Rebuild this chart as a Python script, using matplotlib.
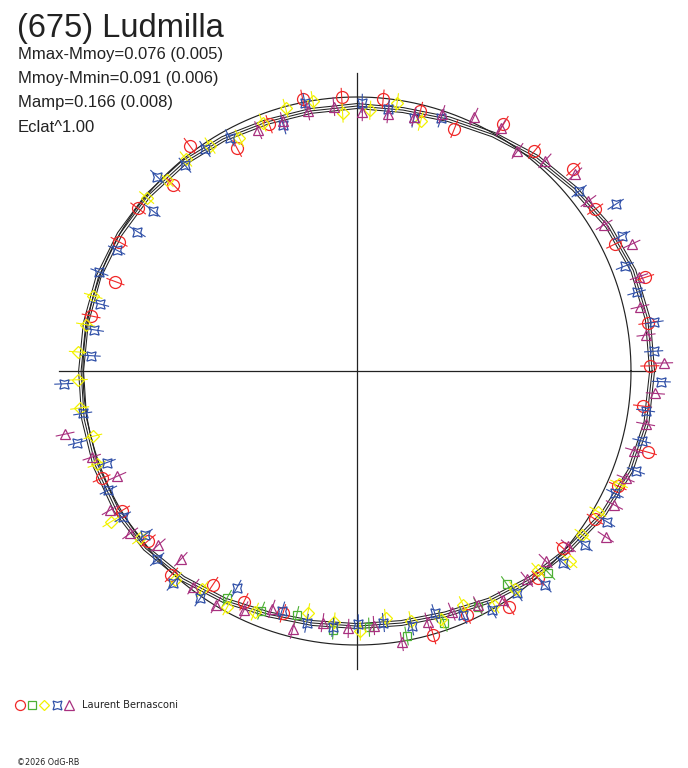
import numpy as np
import matplotlib
matplotlib.use("Agg")
import matplotlib.pyplot as plt
from matplotlib.collections import LineCollection

# ---------------- text ----------------
title = "(675) Ludmilla"
stats_lines = ["Mmax-Mmoy=0.076 (0.005)",
               "Mmoy-Mmin=0.091 (0.006)",
               "Mamp=0.166 (0.008)",
               "Eclat^1.00"]
observer = "Laurent Bernasconi"
credit = "\u00a92026 OdG-RB"

# ---------------- fitted light curve (radius vs phase angle, deg) ----------------
fit_angle = [0, 10, 20, 30, 40, 50, 60, 70, 80, 90, 100, 110, 120, 130, 140, 150, 160, 170,
             180, 190, 200, 210, 220, 230, 240, 250, 260, 270, 280, 290, 300, 310, 320, 330, 340, 350]
fit_radius = [1.077, 1.078, 1.073, 1.058, 1.036, 1.018, 0.996, 0.978, 0.967, 0.967, 0.964, 0.967,
              0.978, 0.989, 0.996, 1.000, 1.004, 1.005, 1.007, 1.011, 1.015, 1.015, 1.007, 0.989,
              0.967, 0.945, 0.934, 0.931, 0.934, 0.945, 0.967, 0.989, 1.011, 1.040, 1.062, 1.073]

# ---------------- observations (angle deg, relative radius) ----------------
red_angle = [101.3, 93.2, 109.6, 118.3, 126.6, 134.6, 143.4, 151.5, 159.7, 168.3, 202.8, 210.7,
             219.1, 227.7, 236.0, 243.9, 253.0, 286.1, 294.2, 302.8, 311.1, 319.3, 328.1, 336.2,
             344.4, 353.0, 1.0, 9.4, 18.0, 26.2, 34.2, 43.0, 51.1, 59.3, 68.1, 76.3, 84.5]
red_radius = [1.012, 1.000, 0.956, 0.923, 1.024, 0.954, 0.995, 0.988, 0.940, 0.991, 1.011, 0.999,
              0.982, 1.006, 0.942, 0.938, 0.925, 1.003, 0.976, 1.024, 1.004, 0.993, 1.023, 1.040,
              1.101, 1.050, 1.069, 1.076, 1.105, 1.049, 1.051, 1.080, 1.031, 1.047, 0.952, 0.976, 0.997]

green_angle = [240.2, 248.2, 256.1, 264.8, 272.7, 280.6, 289.1, 297.2, 305.1, 313.5]
green_radius = [0.956, 0.942, 0.919, 0.949, 0.936, 0.984, 0.972, 0.967, 0.951, 1.015]

yellow_angle = [99.3, 93.2, 105.2, 110.8, 116.8, 123.1, 128.9, 134.9, 140.5, 164.1, 170.3, 176.1,
                181.8, 187.6, 193.9, 199.7, 211.5, 217.6, 228.9, 234.7, 241.2, 247.0, 258.5, 264.8,
                270.7, 276.6, 282.2, 288.7, 294.4, 300.4, 305.9, 312.3, 318.2, 324.0, 329.7, 336.7,
                75.7, 81.5, 87.1]
yellow_radius = [1.000, 0.943, 0.994, 0.970, 0.952, 0.982, 0.994, 0.984, 0.995, 1.001, 1.005, 1.019,
                 1.018, 1.021, 0.993, 1.009, 1.054, 1.000, 1.010, 0.976, 0.982, 0.954, 0.900, 0.920,
                 0.949, 0.909, 0.932, 0.957, 0.938, 0.990, 0.984, 0.982, 1.043, 1.017, 1.018, 1.041,
                 0.940, 0.990, 0.953]

blue_angle = [101.0, 106.7, 118.6, 124.4, 129.9, 135.8, 141.9, 147.6, 153.3, 159.0, 165.4, 171.1,
              176.7, 182.5, 188.8, 194.4, 200.1, 205.6, 211.9, 217.7, 223.3, 229.1, 235.4, 241.0,
              252.6, 258.7, 264.6, 270.3, 276.0, 282.1, 287.8, 293.5, 299.4, 305.7, 311.3, 317.0,
              322.6, 328.9, 334.6, 340.3, 346.2, 352.2, 358.0, 3.8, 9.3, 15.7, 21.4, 27.1, 32.8,
              39.0, 71.6, 77.3, 83.2, 88.9]
blue_radius = [0.998, 0.937, 0.969, 0.982, 0.979, 1.017, 0.947, 0.949, 0.982, 1.007, 0.970, 0.970,
               0.972, 1.071, 1.013, 1.054, 0.973, 1.006, 1.007, 0.978, 1.002, 1.025, 1.008, 0.907,
               0.917, 0.939, 0.940, 0.923, 0.923, 0.952, 0.929, 0.971, 1.001, 0.999, 1.040, 1.029,
               1.047, 1.065, 1.042, 1.081, 1.070, 1.063, 1.111, 1.085, 1.099, 1.060, 1.050, 1.085,
               1.123, 1.043, 0.972, 0.946, 0.962, 0.977]

purple_angle = [100.7, 95.0, 112.3, 106.5, 192.2, 198.0, 203.7, 209.4, 215.6, 221.2, 226.9, 232.8,
                238.9, 244.7, 250.3, 256.0, 262.2, 268.1, 273.8, 279.4, 285.7, 291.5, 297.3, 302.6,
                309.2, 314.8, 320.4, 326.3, 332.5, 338.2, 344.0, 349.6, 355.7, 1.5, 7.1, 12.8, 18.5,
                24.8, 30.6, 36.3, 42.1, 48.2, 53.9, 59.4, 65.3, 71.7, 77.4, 83.1, 88.8]
purple_radius = [0.966, 0.969, 0.950, 0.950, 1.090, 1.018, 0.955, 1.034, 1.018, 0.964, 0.941, 0.988,
                 0.997, 0.965, 0.922, 0.972, 0.927, 0.940, 0.931, 1.001, 0.951, 0.944, 0.961, 0.990,
                 0.981, 0.977, 1.001, 1.091, 1.059, 1.056, 1.053, 1.071, 1.092, 1.119, 1.063, 1.059,
                 1.085, 1.104, 1.048, 1.048, 1.072, 1.029, 0.994, 1.031, 1.022, 0.987, 0.951, 0.946,
                 0.947]

# ---------------- styling ----------------
W, H = 688, 768
CX, CY, RPX = 357, 371, 274.0   # centre and reference-circle radius in pixels
ERR = 0.035
AXLEN = 1.088
SPREAD = 0.009

series = [
    (red_angle, red_radius, "o", 8.6, "#F02828"),
    (green_angle, green_radius, "s", 5.8, "#4CB034"),
    (yellow_angle, yellow_radius, "D", 6.0, "#F2F200"),
    (blue_angle, blue_radius, (4, 1, 45), 9.4, "#3050A8"),
    (purple_angle, purple_radius, "^", 7.6, "#A8307F"),
]

fig = plt.figure(figsize=(W / 100, H / 100), dpi=100)
ax = fig.add_axes([0, 0, 1, 1])
ax.set_xlim(-CX / RPX, (W - CX) / RPX)
ax.set_ylim(-(H - CY) / RPX, CY / RPX)
ax.axis("off")

# axes cross
ax.plot([-AXLEN, AXLEN], [0, 0], color="#222222", lw=0.9)
ax.plot([0, 0], [-AXLEN, AXLEN], color="#222222", lw=0.9)

# reference circle
t = np.deg2rad(np.arange(0, 360.5, 0.5))
ax.plot(np.cos(t), np.sin(t), color="#222222", lw=0.85)

# fitted curves
fa = np.deg2rad(np.array(fit_angle + [fit_angle[0] + 360]))
fr = np.array(fit_radius + [fit_radius[0]])
for off in (-SPREAD, 0.0, SPREAD):
    rr = fr + off
    ax.plot(rr * np.cos(fa), rr * np.sin(fa), color="#222222", lw=0.75)

# observations
for ang, rad, mk, ms, col in series:
    a = np.deg2rad(np.array(ang))
    r = np.array(rad)
    segs = [[((ri - ERR) * np.cos(ai), (ri - ERR) * np.sin(ai)),
             ((ri + ERR) * np.cos(ai), (ri + ERR) * np.sin(ai))] for ai, ri in zip(a, r)]
    ax.add_collection(LineCollection(segs, colors=col, linewidths=0.8))
    ax.plot(r * np.cos(a), r * np.sin(a), linestyle="none", marker=mk, ms=ms,
            mfc="none", mec=col, mew=0.9)

# texts
def fx(px):
    return px / W

def fy(py):
    return 1 - py / H

fig.text(fx(17), fy(37), title, fontsize=23.5, family="Liberation Sans",
         color="#222222", va="baseline", ha="left")
for i, line in enumerate(stats_lines):
    fig.text(fx(18), fy(58.5 + 24.5 * i), line, fontsize=12.0, family="Liberation Sans",
             color="#222222", va="baseline", ha="left")

# legend
leg_x = [20, 32, 43.5, 57, 69]
leg_ms = [7.2, 5.2, 5.6, 9.0, 6.6]
for (ang, rad, mk, ms, col), lx, lms in zip(series, leg_x, leg_ms):
    ax.plot([fx(lx)], [fy(705)], transform=fig.transFigure, marker=mk, ms=lms,
            mfc="none", mec=col, mew=0.9, linestyle="none", clip_on=False)
fig.text(fx(82), fy(708.5), observer, fontsize=7.1, family="DejaVu Sans",
         color="#222222", va="baseline", ha="left")
fig.text(fx(17), fy(765), credit, fontsize=5.8, family="DejaVu Sans",
         color="#222222", va="baseline", ha="left")

fig.savefig("out.png", dpi=100, facecolor="white")
